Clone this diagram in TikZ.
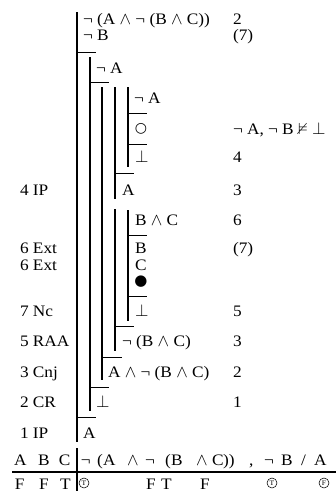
\documentclass[tikz,border=0pt]{standalone}
\usepackage{amssymb}
\usepackage{fontspec}
\setmainfont{Liberation Serif}[FakeStretch=1.08]
\newfontfamily\symfont{DejaVu Sans}
\newcommand{\wg}{$\wedge$}
\begin{document}
\begin{tikzpicture}[x=1pt,y=-1pt,
  t/.style={anchor=base west,inner sep=0pt,outer sep=0pt,font=\fontsize{16}{18}\selectfont},
  sym/.style={anchor=center,inner sep=0pt,outer sep=0pt},
  circ/.style={circle,draw,line width=0.55pt,minimum size=10pt,inner sep=0pt,
    font=\fontsize{7}{8}\selectfont},
  pl/.style={line width=1.2pt},
  bar/.style={line width=0.9pt},
  tl/.style={line width=1.8pt}]
\useasboundingbox (0,0) rectangle (336,491);
% proof lines
\draw[pl] (77,12) -- (77,442);
\draw[pl] (90,57) -- (90,411);
\draw[pl] (102,87) -- (102,380);
\draw[pl] (115,87) -- (115,199);
\draw[pl] (115,209) -- (115,351);
\draw[pl] (128,87) -- (128,167);
\draw[pl] (128,210) -- (128,321);
% bars
\draw[bar] (77,52) -- (96,52);
\draw[bar] (90,82) -- (109,82);
\draw[bar] (128,113) -- (147,113);
\draw[bar] (128,144) -- (147,144);
\draw[bar] (115,173) -- (134,173);
\draw[bar] (128,235) -- (147,235);
\draw[bar] (128,296) -- (147,296);
\draw[bar] (115,326) -- (134,326);
\draw[bar] (102,357) -- (122,357);
\draw[bar] (90,387) -- (109,387);
\draw[bar] (77,417) -- (96,417);
% formulas
\node[t] (f1) at (83,24.5) {¬ (A \wg{} ¬ (B \wg{} C))};
\node[t] (f2) at (83,40) {¬ B};
\node[t] (f3) at (96,73) {¬ A};
\node[t] (f4) at (134,103) {¬ A};
\node[sym] (f5) at (141,129) {\symfont\fontsize{14}{16}\selectfont ○};
\node[t] (f6) at (135,162) {$\bot$};
\node[t] (f7) at (122,195) {A};
\node[t] (f8) at (135,225) {B \wg{} C};
\node[t] (f9) at (135,253) {B};
\node[t] (f10) at (135,270) {C};
\node[sym] (f11) at (141,282) {\symfont\fontsize{15}{16}\selectfont ●};
\node[t] (f12) at (135,316) {$\bot$};
\node[t] (f13) at (122,346) {¬ (B \wg{} C)};
\node[t] (f14) at (108,377) {A \wg{} ¬ (B \wg{} C)};
\node[t] (f15) at (96,407) {$\bot$};
\node[t] (f16) at (83,438) {A};
% right column
\node[t] (r1) at (233,24.5) {2};
\node[t] (r2) at (233,40) {(7)};
\node[t] (r3) at (233,134) {¬ A, ¬ B $\nvDash$ $\bot$};
\node[t] (r4) at (233,162) {4};
\node[t] (r5) at (233,195) {3};
\node[t] (r6) at (233,225) {6};
\node[t] (r7) at (233,253) {(7)};
\node[t] (r8) at (233,316) {5};
\node[t] (r9) at (233,346) {3};
\node[t] (r10) at (233,377) {2};
\node[t] (r11) at (233,407) {1};
% left labels
\node[t] (l1) at (20,195) {4 IP};
\node[t] (l2) at (20,253) {6 Ext};
\node[t] (l3) at (20,270) {6 Ext};
\node[t] (l4) at (20,316) {7 Nc};
\node[t] (l5) at (20,346) {5 RAA};
\node[t] (l6) at (20,377) {3 Cnj};
\node[t] (l7) at (20,407) {2 CR};
\node[t] (l8) at (20,438) {1 IP};
% table
\draw[tl] (77,448) -- (77,491);
\draw[tl] (12,472) -- (336,472);
\node[t] (ha) at (14,465) {A};
\node[t] (hb) at (38,465) {B};
\node[t] (hc) at (59,465) {C};
\foreach \x/\s [count=\i] in {81/¬,97/(,103/A,127/\wg,145/¬,165/(,171/B,196/\wg,212/C,223/)),249/{,},264/¬,281/B,301/{/},314/A}
  \node[t] (h\i) at (\x,465) {\s};
\node[t] (va) at (15,489) {F};
\node[t] (vb) at (39,489) {F};
\node[t] (vc) at (60,489) {T};
\node[circ] (v1) at (84,483) {T};
\node[t] (v2) at (146,489) {F};
\node[t] (v3) at (161,489) {T};
\node[t] (v4) at (200,489) {F};
\node[circ] (v5) at (272,483) {T};
\node[circ] (v6) at (324,483) {F};
\end{tikzpicture}
\end{document}
